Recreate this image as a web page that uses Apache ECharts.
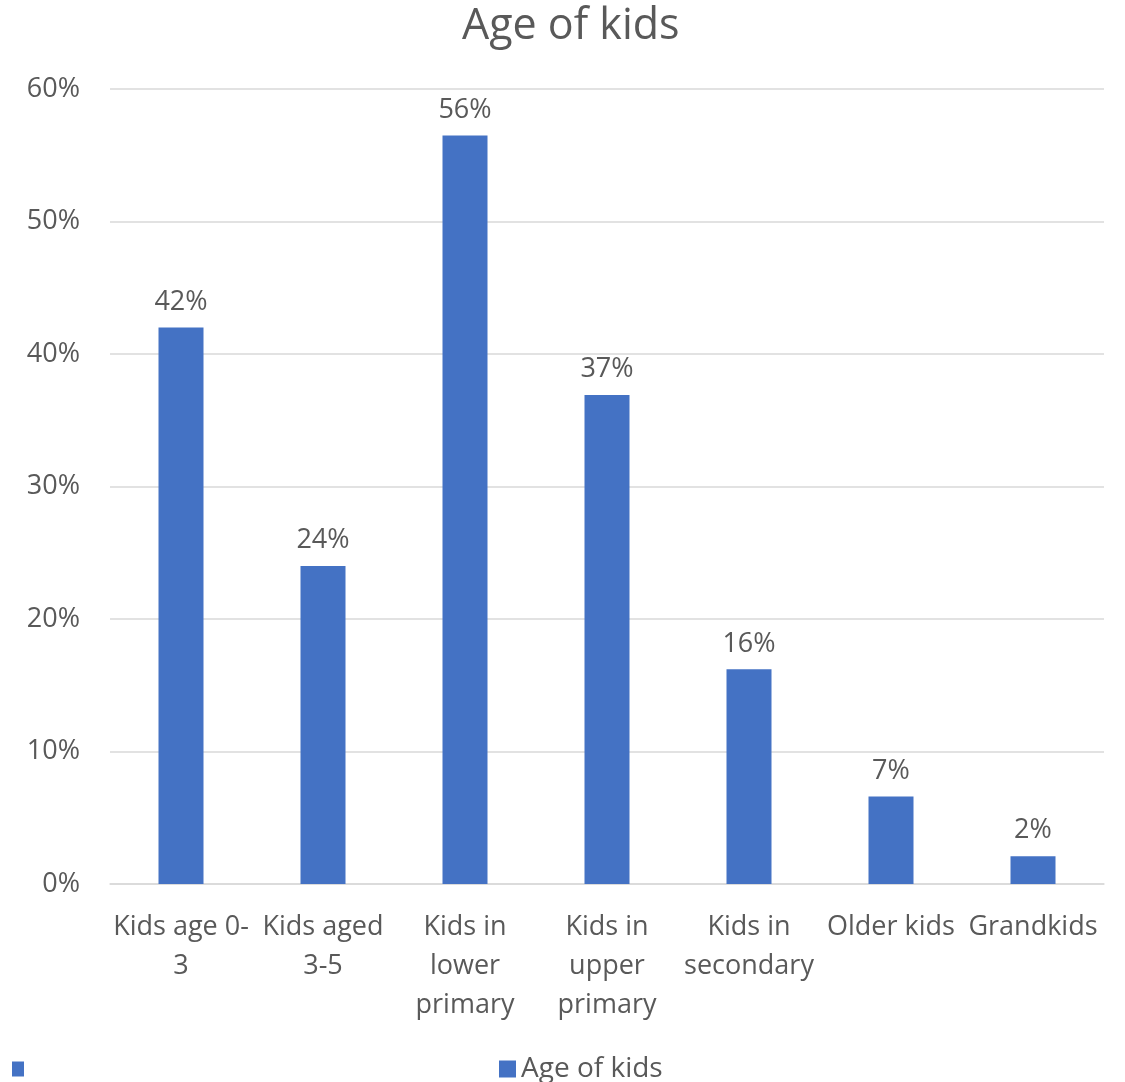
<!DOCTYPE html>
<html><head><meta charset="utf-8">
<script src="https://cdn.jsdelivr.net/npm/echarts@6/dist/echarts.min.js"></script>
<style>html,body{margin:0;padding:0;background:#fff}#c{width:1125px;height:1082px}</style>
</head><body><div id="c"></div>
<script>
const categories = ["Kids age 0-3","Kids aged 3-5","Kids in lower primary","Kids in upper primary","Kids in secondary","Older kids","Grandkids"];
const tickLabels = ["Kids age 0-\n3","Kids aged\n3-5","Kids in\nlower\nprimary","Kids in\nupper\nprimary","Kids in\nsecondary","Older kids","Grandkids"];
const values = [0.42, 0.24, 0.565, 0.369, 0.162, 0.066, 0.021];
const yTicks = [0, 0.1, 0.2, 0.3, 0.4, 0.5, 0.6];
const seriesName = "Age of kids";
const font = "'Open Sans', sans-serif";
const txt = "#595959";
const chart = echarts.init(document.getElementById('c'));
chart.setOption({
  animation: false,
  title: { text: "Age of kids", left: 457, top: 0, textStyle: { fontFamily: font, fontSize: 43, fontWeight: 'normal', color: txt } },
  legend: [
    { data: [" "], icon: 'rect', left: 7, top: 1050, itemWidth: 12, itemHeight: 15, textStyle: { fontFamily: font, fontSize: 28, color: txt } },
    { data: [seriesName], icon: 'rect', left: 494, top: 1050, itemWidth: 17, itemHeight: 17, itemGap: 6, textStyle: { fontFamily: font, fontSize: 28, color: txt } }
  ],
  grid: { left: 110, right: 21, top: 89, bottom: 198, containLabel: false },
  xAxis: {
    type: 'category', data: categories,
    axisLine: { lineStyle: { color: '#d9d9d9', width: 1.5 } },
    axisTick: { show: false },
    axisLabel: { formatter: (v, i) => tickLabels[i], interval: 0, margin: 24, fontFamily: font, fontSize: 27, color: txt, lineHeight: 39 }
  },
  yAxis: {
    type: 'value', min: yTicks[0], max: yTicks[yTicks.length-1], interval: 0.1,
    axisLine: { show: false }, axisTick: { show: false },
    splitLine: { lineStyle: { color: '#d9d9d9', width: 1.5 } },
    axisLabel: { formatter: v => Math.round(v*100) + '%', margin: 30, fontFamily: font, fontSize: 27, color: txt }
  },
  series: [
    { name: seriesName, type: 'bar', data: values, barWidth: 45, barGap: '-100%', itemStyle: { color: '#4472c4' },
      label: { show: true, position: 'top', distance: 12, formatter: p => Math.round(p.value*100) + '%', fontFamily: font, fontSize: 27, color: txt } },
    { name: " ", type: 'bar', data: [], barWidth: 45, barGap: '-100%', itemStyle: { color: '#4472c4' } }
  ]
});
</script></body></html>
